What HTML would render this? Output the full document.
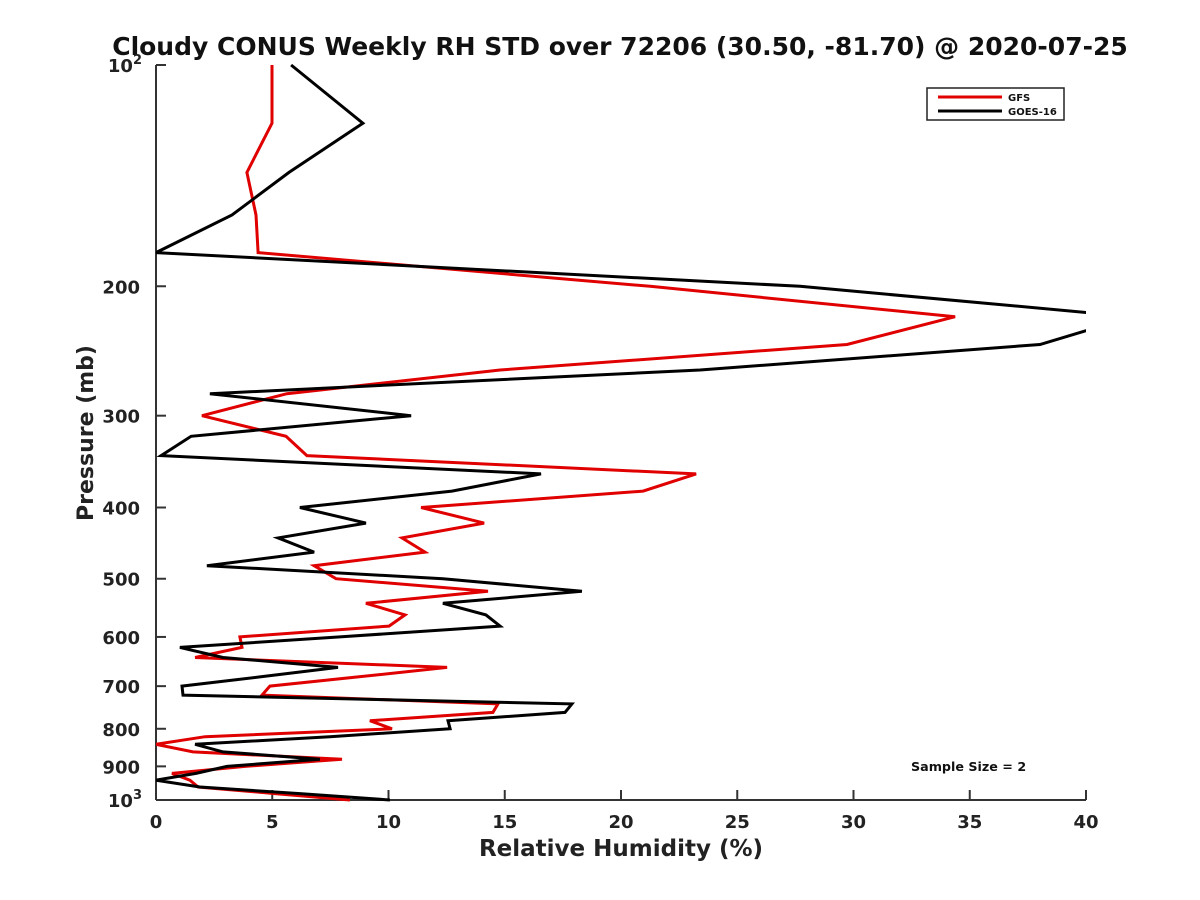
<!DOCTYPE html>
<html><head><meta charset="utf-8"><style>
html,body{margin:0;padding:0;background:#fff;}
svg{display:block;font-family:"DejaVu Sans","Liberation Sans",sans-serif;}
</style></head><body>
<svg id="chart" width="1200" height="900" viewBox="0 0 1200 900">
<defs><clipPath id="plotclip"><rect x="156" y="60" width="930" height="745"/></clipPath></defs>
<text x="620" y="55" text-anchor="middle" font-size="25" font-weight="bold" fill="#111">Cloudy CONUS Weekly RH STD over 72206 (30.50, -81.70) @ 2020-07-25</text>
<g id="axes"></g>
<g id="series" clip-path="url(#plotclip)"></g>
<text x="621" y="856" text-anchor="middle" font-size="23" font-weight="bold" fill="#222">Relative Humidity (%)</text>
<text transform="translate(93,433) rotate(-90)" text-anchor="middle" font-size="22" font-weight="bold" fill="#222">Pressure (mb)</text>
<g>
<rect x="927" y="88" width="137" height="32" fill="#fff" stroke="#222" stroke-width="1.5"/>
<line x1="938" y1="97" x2="1002" y2="97" stroke="#e00000" stroke-width="3"/>
<text x="1008" y="101" font-size="10" font-weight="bold" fill="#111">GFS</text>
<line x1="938" y1="111" x2="1002" y2="111" stroke="#000" stroke-width="3"/>
<text x="1008" y="115" font-size="10" font-weight="bold" fill="#111">GOES-16</text>
</g>
<text x="911" y="771" font-size="12.7" font-weight="bold" fill="#111">Sample Size = 2</text>
</svg>
<script>
const pressures = [100,120,140,160,180,200,220,240,260,280,300,320,340,360,380,400,420,440,460,480,500,520,540,560,580,600,620,640,660,680,700,720,740,760,780,800,820,840,860,880,900,920,940,960,980,1000];
const gfsValues = [4.99,4.99,3.91,4.30,4.39,21.25,34.37,29.72,14.80,5.63,1.98,5.59,6.49,23.23,20.95,11.40,14.11,10.58,11.57,6.80,7.74,14.28,9.03,10.71,10.02,3.61,3.70,1.68,12.52,8.69,4.90,4.56,14.71,14.49,9.20,10.15,2.11,0.0,1.59,8.00,3.83,0.69,1.46,1.81,5.12,8.34];
const goesValues = [5.81,8.90,5.72,3.27,0.0,27.70,42.0,38.02,23.40,2.32,10.97,1.51,0.22,16.56,12.73,6.19,9.03,5.25,6.80,2.19,12.34,18.32,12.34,14.19,14.80,7.91,1.03,2.88,7.83,4.47,1.12,1.16,17.89,17.59,12.56,12.65,7.48,1.68,2.88,7.05,3.05,1.72,0.0,1.89,6.19,10.06];
const xTicks = [0,5,10,15,20,25,30,35,40];
const yTicks = [100,200,300,400,500,600,700,800,900,1000];

const NS = 'http://www.w3.org/2000/svg';
const X0 = 156, X1 = 1086, Y0 = 65, Y1 = 800;
function xs(v){ return X0 + (v - 0) / 40 * (X1 - X0); }
function ys(p){ return Y0 + (Math.log10(p) - 2) * (Y1 - Y0); }
function mk(tag, attrs, parent){
  const e = document.createElementNS(NS, tag);
  for (const k in attrs) e.setAttribute(k, attrs[k]);
  parent.appendChild(e);
  return e;
}
const axes = document.getElementById('axes');
const yAxis = mk('line', {x1:X0, y1:Y0, x2:X0, y2:Y1, stroke:'#333', 'stroke-width':2}, axes);


const xAxis = mk('line', {x1:X0, y1:Y1, x2:X1, y2:Y1, stroke:'#333', 'stroke-width':2}, axes);



xTicks.forEach(t => {
  const x = xs(t);
  const tk = mk('line', {x1:x, y1:Y1, x2:x, y2:Y1 - 10, stroke:'#333', 'stroke-width':2}, axes);
  
  
  const lb = mk('text', {x:x, y:Y1 + 28, 'text-anchor':'middle', 'font-size':18, 'font-weight':'bold', fill:'#222'}, axes);
  lb.textContent = String(t);
  
  
});
yTicks.forEach(p => {
  const y = ys(p);
  const tk = mk('line', {x1:X0, y1:y, x2:X0 + 10, y2:y, stroke:'#333', 'stroke-width':2}, axes);
  
  
  const lb = mk('text', {x:X0 - 16, y:y + 7, 'text-anchor':'end', 'font-size':18, 'font-weight':'bold', fill:'#222'}, axes);
  if (p === 100 || p === 1000) {
    lb.textContent = '10';
    const sup = mk('tspan', {dy:-8, 'font-size':13}, lb);
    sup.textContent = p === 100 ? '2' : '3';
    lb.setAttribute('x', X0 - 14);
  } else {
    lb.textContent = String(p);
  }
  
  
});

const series = document.getElementById('series');
function drawLine(vals, color, name){
  const pts = vals.map((v, i) => xs(v).toFixed(1) + ',' + ys(pressures[i]).toFixed(1)).join(' ');
  const pl = mk('polyline', {points:pts, fill:'none', stroke:color, 'stroke-width':3, 'stroke-linejoin':'miter'}, series);
  
  
}
drawLine(gfsValues, '#e00000', 'gfs-line');
drawLine(goesValues, '#000000', 'goes16-line');
</script>
</body></html>
